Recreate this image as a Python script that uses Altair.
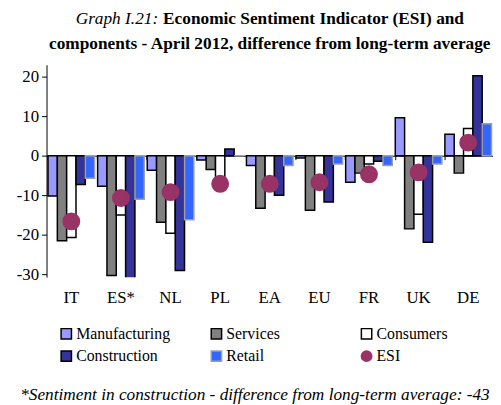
import altair as alt
import pandas as pd

cats = ["IT", "ES*", "NL", "PL", "EA", "EU", "FR", "UK", "DE"]
series_names = ["Manufacturing", "Services", "Consumers", "Construction", "Retail", "ESI"]
manufacturing = [-10.2, -7.7, -3.7, -1.1, -2.5, -0.6, -6.7, 9.6, 5.4]
services = [-21.5, -30.3, -16.8, -3.5, -13.3, -13.8, -4.4, -18.5, -4.4]
consumers = [-20.7, -15.0, -19.6, -5.5, -7.0, -6.0, -2.1, -14.8, 6.9]
construction = [-7.3, -43.0, -29.0, 1.7, -10.0, -11.7, -1.4, -21.9, 20.2]
retail = [-5.7, -11.0, -16.2, 0.0, -2.5, -2.1, -2.5, -2.1, 8.1]
esi = [-16.6, -10.7, -9.2, -7.1, -7.1, -6.7, -4.7, -4.2, 3.3]

fills = ["#9999FF", "#808080", "#FFFFFF", "#333399", "#3366FF", "#993366"]
strokes = ["#000000", "#000000", "#000000", "#000000", "#A0A0A0", "#993366"]
shapes = ["square", "square", "square", "square", "square", "circle"]

rows = []
for name, vals in zip(series_names[:5], [manufacturing, services, consumers, construction, retail]):
    for c, v in zip(cats, vals):
        rows.append({"cat": c, "series": name, "value": v})
bars_df = pd.DataFrame(rows)
esi_df = pd.DataFrame({"cat": cats, "series": "ESI", "value": esi})

FONT = "Liberation Serif"
H = 215
W = 452
YMIN, YMAX = -30.7, 23
AX_FS = 17
LEG_FS = 16
TITLE_FS = 17.5

xscale = alt.Scale(domain=cats, paddingInner=0.06, paddingOuter=0.03)
yscale = alt.Scale(domain=[YMIN, YMAX], nice=False, zero=False)
color_scale = alt.Scale(domain=series_names, range=fills)
stroke_scale = alt.Scale(domain=series_names, range=strokes)
shape_scale = alt.Scale(domain=series_names, range=shapes)

legend = alt.Legend(
    title=None, orient="none", legendX=12, legendY=264, columns=3, direction="horizontal",
    gridAlign="all", columnPadding=37, rowPadding=5, symbolSize=110, symbolStrokeWidth=1.5,
    labelFont=FONT, labelFontSize=LEG_FS, labelColor="#000000", labelOffset=2,
)

yaxis = alt.Axis(
    values=[-30, -20, -10, 0, 10, 20], title=None, grid=False, labelFont=FONT, labelFontSize=AX_FS,
    labelColor="#000000", domainColor="#000000", tickColor="#000000", tickSize=5, labelPadding=3,
    labelExpr="datum.value < 0 ? '-' + abs(datum.value) : '' + datum.value",
)

bars = alt.Chart(bars_df).mark_bar(strokeWidth=1.5, clip=True).encode(
    x=alt.X("cat:N", sort=cats, scale=xscale,
            axis=alt.Axis(title=None, domain=False, ticks=False, labelAngle=0, labelFont=FONT,
                          labelFontSize=AX_FS, labelColor="#000000", labelPadding=13)),
    xOffset=alt.XOffset("series:N", sort=series_names[:5],
                        scale=alt.Scale(domain=series_names[:5], paddingInner=0, paddingOuter=0)),
    y=alt.Y("value:Q", scale=yscale, axis=yaxis),
    color=alt.Color("series:N", scale=color_scale, legend=legend),
    stroke=alt.Stroke("series:N", scale=stroke_scale, legend=legend),
)

zero_offset = -round((-YMIN) / (YMAX - YMIN) * H, 1)

points = alt.Chart(esi_df).mark_point(filled=True, size=260, opacity=1).encode(
    x=alt.X("cat:N", sort=cats, scale=xscale,
            axis=alt.Axis(title=None, labels=False, domain=True, domainColor="#000000",
                          domainWidth=1, ticks=True, tickColor="#000000", tickSize=4,
                          bandPosition=0, offset=zero_offset, orient="bottom")),
    y=alt.Y("value:Q", scale=yscale, axis=yaxis),
    color=alt.Color("series:N", scale=color_scale, legend=legend),
    stroke=alt.Stroke("series:N", scale=stroke_scale, legend=legend),
    shape=alt.Shape("series:N", scale=shape_scale, legend=legend),
)

one = pd.DataFrame({"k": [0]})
t1a = alt.Chart(one).mark_text(font=FONT, fontSize=TITLE_FS, fontStyle="italic", align="right",
                               baseline="middle", color="#000000").encode(
    x=alt.value(113), y=alt.value(-46), text=alt.value("Graph I.21:"))
t1b = alt.Chart(one).mark_text(font=FONT, fontSize=TITLE_FS, fontWeight="bold", align="left",
                               baseline="middle", color="#000000").encode(
    x=alt.value(118), y=alt.value(-46), text=alt.value("Economic Sentiment Indicator (ESI) and"))
t2 = alt.Chart(one).mark_text(font=FONT, fontSize=TITLE_FS, fontWeight="bold", align="center",
                              baseline="middle", color="#000000").encode(
    x=alt.value(W / 2), y=alt.value(-21),
    text=alt.value("components - April 2012, difference from long-term average"))
foot = alt.Chart(one).mark_text(font=FONT, fontSize=TITLE_FS, fontStyle="italic", align="center",
                                baseline="middle", color="#000000").encode(
    x=alt.value(211), y=alt.value(334),
    text=alt.value("*Sentiment in construction - difference from long-term average: -43"))

chart = alt.layer(bars, points, t1a, t1b, t2, foot).resolve_axis(x="independent").properties(
    width=W, height=H, padding={"left": 8, "top": 0, "right": 0, "bottom": 0},
).configure(
    background="#FFFFFF", font=FONT
).configure_view(stroke=None).configure_axis(
    labelFont=FONT, labelFontSize=AX_FS, labelColor="#000000"
).configure_legend(labelFont=FONT, labelFontSize=LEG_FS, labelColor="#000000").configure_text(font=FONT)

chart.save("out.html", embed_options={"renderer": "svg", "actions": False})
